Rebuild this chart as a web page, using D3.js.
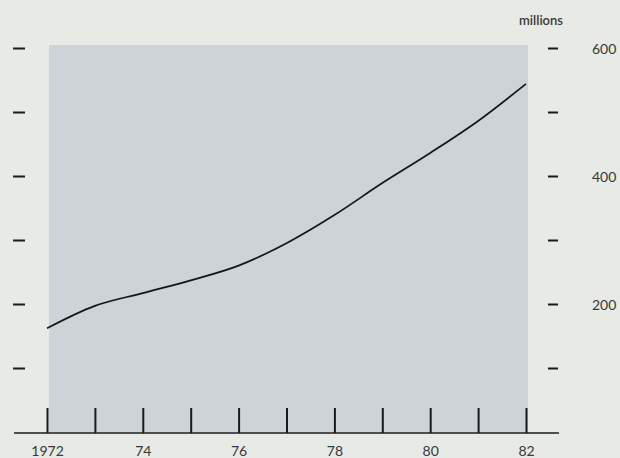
<!DOCTYPE html>
<html>
<head>
<meta charset="utf-8">
<script src="https://cdn.jsdelivr.net/npm/d3@7/dist/d3.min.js"></script>
<style>
  html, body { margin: 0; padding: 0; background: #e7eae5; }
  svg { display: block; }
  text { font-family: "Lato", "Open Sans", sans-serif; fill: #383838; }
</style>
</head>
<body>
<svg id="chart" width="620" height="458"></svg>
<script>
// Data
const years = [1972, 1973, 1974, 1975, 1976, 1977, 1978, 1979, 1980, 1981, 1982];
const values = [162, 197, 217, 237, 260, 295, 339, 389, 436, 486, 544];
const yTicks = [100, 200, 300, 400, 500, 600];
const yLabelTicks = [200, 400, 600];
const unitLabel = "millions";

const svg = d3.select("#chart");
const x = d3.scaleLinear().domain([1972, 1982]).range([47, 526]);
const y = d3.scaleLinear().domain([0, 600]).range([432, 48]);

// shaded panel
svg.append("rect")
  .attr("x", x(1972) + 2).attr("y", 45)
  .attr("width", x(1982) - x(1972)).attr("height", y(0) - 45)
  .attr("fill", "#cdd3d6");

// line
const line = d3.line().x((d, i) => x(years[i])).y(d => y(d)).curve(d3.curveMonotoneX);
svg.append("path")
  .datum(values)
  .attr("d", line)
  .attr("fill", "none")
  .attr("stroke", "#151515")
  .attr("stroke-width", 1.7);

// bottom axis
const xAxis = d3.axisBottom(x)
  .tickValues(years)
  .tickSizeInner(-25)
  .tickSizeOuter(0)
  .tickPadding(30)
  .tickFormat(d => d === 1972 ? "1972" : (d % 2 === 0 ? String(d).slice(2) : ""));
const gx = svg.append("g").attr("transform", `translate(0,${y(0) + 1})`).call(xAxis);
gx.select(".domain").remove();
gx.selectAll(".tick line").attr("stroke", "#1a1a1a").attr("stroke-width", 2);
gx.selectAll(".tick text").attr("font-size", 14).attr("dy", "0").attr("y", 23);

// baseline
svg.append("line")
  .attr("x1", 14).attr("x2", 559)
  .attr("y1", y(0) + 1).attr("y2", y(0) + 1)
  .attr("stroke", "#1a1a1a").attr("stroke-width", 1.6);

// right axis
const rAxis = d3.axisRight(y)
  .tickValues(yTicks)
  .tickSize(10)
  .tickPadding(34)
  .tickFormat(d => yLabelTicks.includes(d) ? String(d) : "");
const gr = svg.append("g").attr("transform", "translate(548,0)").call(rAxis);
gr.select(".domain").remove();
gr.selectAll(".tick line").attr("stroke", "#1a1a1a").attr("stroke-width", 2);
gr.selectAll(".tick text").attr("font-size", 14).attr("dy", "0.4em");

// left axis
const lAxis = d3.axisRight(y)
  .tickValues(yTicks)
  .tickSize(12)
  .tickFormat("");
const gl = svg.append("g").attr("transform", "translate(13,0)").call(lAxis);
gl.select(".domain").remove();
gl.selectAll(".tick line").attr("stroke", "#1a1a1a").attr("stroke-width", 2);

// unit label
svg.append("text")
  .attr("x", 563).attr("y", 25)
  .attr("text-anchor", "end")
  .attr("font-size", 13)
  .attr("font-weight", 600)
  .text(unitLabel);
</script>
</body>
</html>
